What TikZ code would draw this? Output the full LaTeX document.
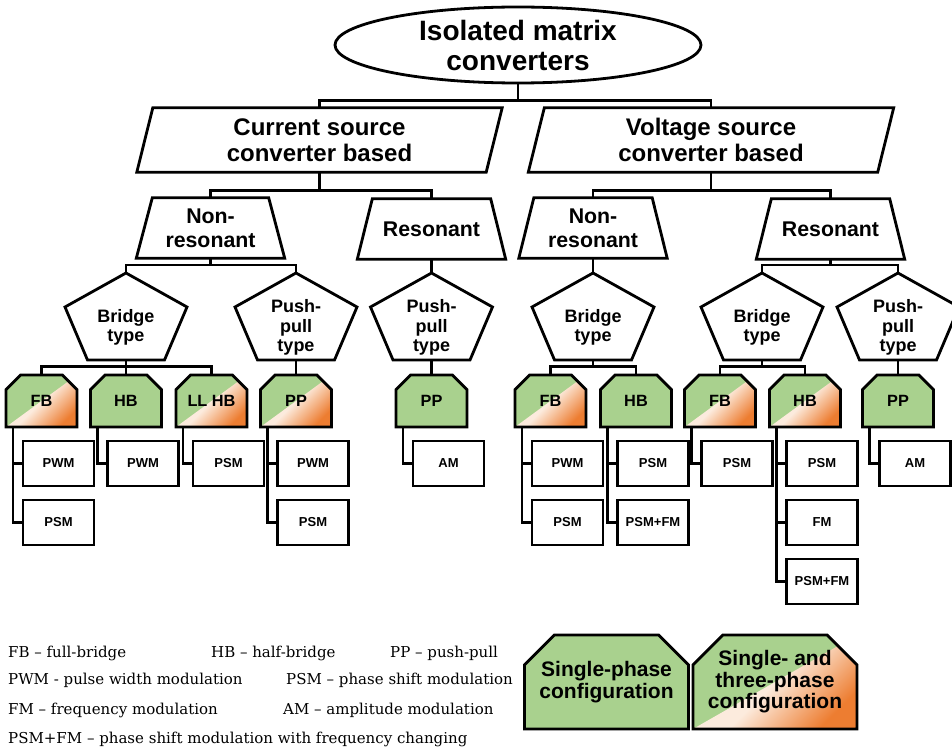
\documentclass[tikz,border=0pt]{standalone}
\usepackage{fontspec}
\setmainfont{Liberation Sans}
\newfontfamily\legendfont{DejaVu Serif}
\usetikzlibrary{shapes.geometric,shapes.misc,calc}
\definecolor{gfill}{HTML}{A9D18E}
\definecolor{ofill}{HTML}{ED7D31}
\definecolor{pfill}{HTML}{FCEBDD}
\tikzset{
  shapeline/.style={line width=2.8pt, line join=miter},
  conn/.style={line width=2.8pt},
  bigtxt/.style={rectangle, inner sep=0pt, align=center, font=\bfseries\fontsize{24}{25.5}\selectfont},
  parabox/.style={bigtxt, minimum width=365pt, minimum height=64pt},
  trapbox/.style={rectangle, inner sep=0pt, align=center, minimum width=148pt, minimum height=60pt, font=\bfseries\fontsize{21.3}{24}\selectfont},
  penttxt/.style={rectangle, inner sep=0pt, align=center, font=\bfseries\fontsize{18}{19.5}\selectfont},
  gbox/.style={chamfered rectangle, chamfered rectangle corners={north west,north east},
    chamfered rectangle xsep=9pt, chamfered rectangle ysep=9pt,
    minimum width=71pt, minimum height=52pt, inner sep=0pt, draw, line width=2.8pt,
    fill=gfill, font=\bfseries\fontsize{16.3}{18}\selectfont},
  lgbox/.style={gbox, chamfered rectangle xsep=15pt, chamfered rectangle ysep=15pt,
    minimum width=159pt, minimum height=94pt, align=center, font=\bfseries\fontsize{21}{21.5}\selectfont},
  grad/.style={path picture={\shade[top color=pfill, bottom color=ofill, middle color=pfill, shading angle=45]
    (path picture bounding box.south west) -- (path picture bounding box.north east) -- (path picture bounding box.south east) -- cycle;}},
  sbox/.style={rectangle, draw, line width=2.8pt, fill=white, minimum width=71pt, minimum height=45pt,
    inner sep=0pt, font=\bfseries\fontsize{13}{14}\selectfont},
  legend/.style={anchor=base west, inner sep=0pt, font=\legendfont\fontsize{15}{16}\selectfont},
}
\newcommand\slantbox[2]{\draw[shapeline] (#1.south west) -- ($(#1.north west)+(#2,0)$) -- (#1.north east) -- ($(#1.south east)+(-#2,0)$) -- cycle;}
\newcommand\trapoutline[2]{\draw[shapeline] (#1.south west) -- ($(#1.north west)+(#2,0)$) -- ($(#1.north east)+(-#2,0)$) -- (#1.south east) -- cycle;}
\newcommand\pentoutline[1]{%
  \coordinate (#1-top) at ($(#1.center)+(0,-54.5)$);
  \coordinate (#1-bot) at ($(#1.center)+(0,32.5)$);
  \draw[shapeline] (#1-top) -- ($(#1.center)+(61,-20.5)$) -- ($(#1.center)+(38.5,32.5)$) -- ($(#1.center)+(-38.5,32.5)$) -- ($(#1.center)+(-61,-20.5)$) -- cycle;}
\newcommand\subconn[2]{\draw[conn] ($(#1.south)+(-28.5,0)$) |- (#2.west);}
\begin{document}
\begin{tikzpicture}[x=1pt,y=-1pt]
\useasboundingbox[fill=white] (0,0) rectangle (952,749);
% root
\node[ellipse, draw, line width=2.8pt, minimum width=366pt, minimum height=76pt, inner sep=0pt, align=center,
  font=\bfseries\fontsize{28}{30}\selectfont] (root) at (518,45) {Isolated matrix\\converters};
% level 1
\node[parabox] (cs) at (319.5,140) {Current source\\converter based};
\node[parabox] (vs) at (711,140) {Voltage source\\converter based};
\slantbox{cs}{16}
\slantbox{vs}{16}
% level 2
\node[trapbox] (nr1) at (210.5,228) {Non-\\resonant};
\node[trapbox] (rs1) at (431.5,229) {Resonant};
\node[trapbox] (nr2) at (593,228) {Non-\\resonant};
\node[trapbox] (rs2) at (830.5,229) {Resonant};
\trapoutline{nr1}{16}
\trapoutline{rs1}{15}
\trapoutline{nr2}{15}
\trapoutline{rs2}{15}
% level 3
\node[penttxt] (bt1) at (126,327.5) {Bridge\\type};
\node[penttxt] (pp1) at (296,327.5) {Push-\\pull\\type};
\node[penttxt] (pp2) at (431.5,327.5) {Push-\\pull\\type};
\node[penttxt] (bt2) at (593,327.5) {Bridge\\type};
\node[penttxt] (bt3) at (762,327.5) {Bridge\\type};
\node[penttxt] (pp3) at (898,327.5) {Push-\\pull\\type};
\pentoutline{bt1}\pentoutline{pp1}\pentoutline{pp2}\pentoutline{bt2}\pentoutline{bt3}\pentoutline{pp3}
% level 4
\node[gbox, grad] (fb1) at (41.5,401) {FB};
\node[gbox] (hb1) at (126,401) {HB};
\node[gbox, grad] (ll1) at (211.5,401) {LL HB};
\node[gbox, grad] (ppb1) at (296,401) {PP};
\node[gbox] (ppb2) at (431.5,401) {PP};
\node[gbox, grad] (fb2) at (550.5,401) {FB};
\node[gbox] (hb2) at (636,401) {HB};
\node[gbox, grad] (fb3) at (720,401) {FB};
\node[gbox, grad] (hb3) at (805,401) {HB};
\node[gbox] (ppb3) at (898,401) {PP};
% level 5
\node[sbox] (s1a) at (58.5,463.5) {PWM};
\node[sbox] (s1b) at (58.5,522.5) {PSM};
\node[sbox] (s2a) at (143,463.5) {PWM};
\node[sbox] (s3a) at (228.5,463.5) {PSM};
\node[sbox] (s4a) at (313,463.5) {PWM};
\node[sbox] (s4b) at (313,522.5) {PSM};
\node[sbox] (s5a) at (448.5,463.5) {AM};
\node[sbox] (s6a) at (567.5,463.5) {PWM};
\node[sbox] (s6b) at (567.5,522.5) {PSM};
\node[sbox] (s7a) at (653,463.5) {PSM};
\node[sbox] (s7b) at (653,522.5) {PSM+FM};
\node[sbox] (s8a) at (737,463.5) {PSM};
\node[sbox] (s9a) at (822,463.5) {PSM};
\node[sbox] (s9b) at (822,522.5) {FM};
\node[sbox] (s9c) at (822,581.5) {PSM+FM};
\node[sbox] (s10a) at (915,463.5) {AM};
% connectors
\coordinate (bus0) at ($(cs.north)+(0,-7)$);
\draw[conn] (root.south) -- (root.south |- bus0);
\draw[conn] (cs.north) -- (bus0) -| (vs.north);
\coordinate (bus1) at ($(nr1.north)+(0,-7)$);
\draw[conn] (cs.south) -- (cs.south |- bus1);
\draw[conn] (nr1.north) -- (bus1) -| (rs1.north);
\coordinate (bus2) at ($(nr2.north)+(0,-7)$);
\draw[conn] (vs.south) -- (vs.south |- bus2);
\draw[conn] (nr2.north) -- (bus2) -| (rs2.north);
\coordinate (bus3) at ($(bt1-top)+(0,-8)$);
\draw[conn] (nr1.south) -- (nr1.south |- bus3);
\draw[conn] (bt1-top) -- (bus3) -| (pp1-top);
\draw[conn] (rs1.south) -- (pp2-top);
\draw[conn] (nr2.south) -- (bt2-top);
\coordinate (bus4) at ($(bt3-top)+(0,-8)$);
\draw[conn] (rs2.south) -- (rs2.south |- bus4);
\draw[conn] (bt3-top) -- (bus4) -| (pp3-top);
\coordinate (bus5) at ($(fb1.north)+(0,-7)$);
\draw[conn] (bt1-bot) -- (hb1.north);
\draw[conn] (fb1.north) -- (bus5) -| (ll1.north);
\draw[conn] (pp1-bot) -- (ppb1.north);
\draw[conn] (pp2-bot) -- (ppb2.north);
\coordinate (bus6) at ($(fb2.north)+(0,-7)$);
\draw[conn] (bt2-bot) -- (bt2-bot |- bus6);
\draw[conn] (fb2.north) -- (bus6) -| (hb2.north);
\coordinate (bus7) at ($(fb3.north)+(0,-7)$);
\draw[conn] (bt3-bot) -- (bt3-bot |- bus7);
\draw[conn] (fb3.north) -- (bus7) -| (hb3.north);
\draw[conn] (pp3-bot) -- (ppb3.north);
\subconn{fb1}{s1a}\subconn{fb1}{s1b}
\subconn{hb1}{s2a}
\subconn{ll1}{s3a}
\subconn{ppb1}{s4a}\subconn{ppb1}{s4b}
\subconn{ppb2}{s5a}
\subconn{fb2}{s6a}\subconn{fb2}{s6b}
\subconn{hb2}{s7a}\subconn{hb2}{s7b}
\subconn{fb3}{s8a}
\subconn{hb3}{s9a}\subconn{hb3}{s9b}\subconn{hb3}{s9c}
\subconn{ppb3}{s10a}
% legend
\node[legend] (l1) at (8,657) {FB – full-bridge};
\node[legend] (l2) at (211,657) {HB – half-bridge};
\node[legend] (l3) at (390,657) {PP – push-pull};
\node[legend] (l4) at (8,684) {PWM - pulse width modulation};
\node[legend] (l5) at (286,684) {PSM – phase shift modulation};
\node[legend] (l6) at (8,714) {FM – frequency modulation};
\node[legend] (l7) at (283,714) {AM – amplitude modulation};
\node[legend] (l8) at (8,743) {PSM+FM – phase shift modulation with frequency changing};
\node[lgbox] (lg1) at (606.5,682) {Single-phase\\configuration};
\node[lgbox, grad, minimum width=160pt] (lg2) at (775,682) {Single- and\\three-phase\\configuration};
\end{tikzpicture}
\end{document}
